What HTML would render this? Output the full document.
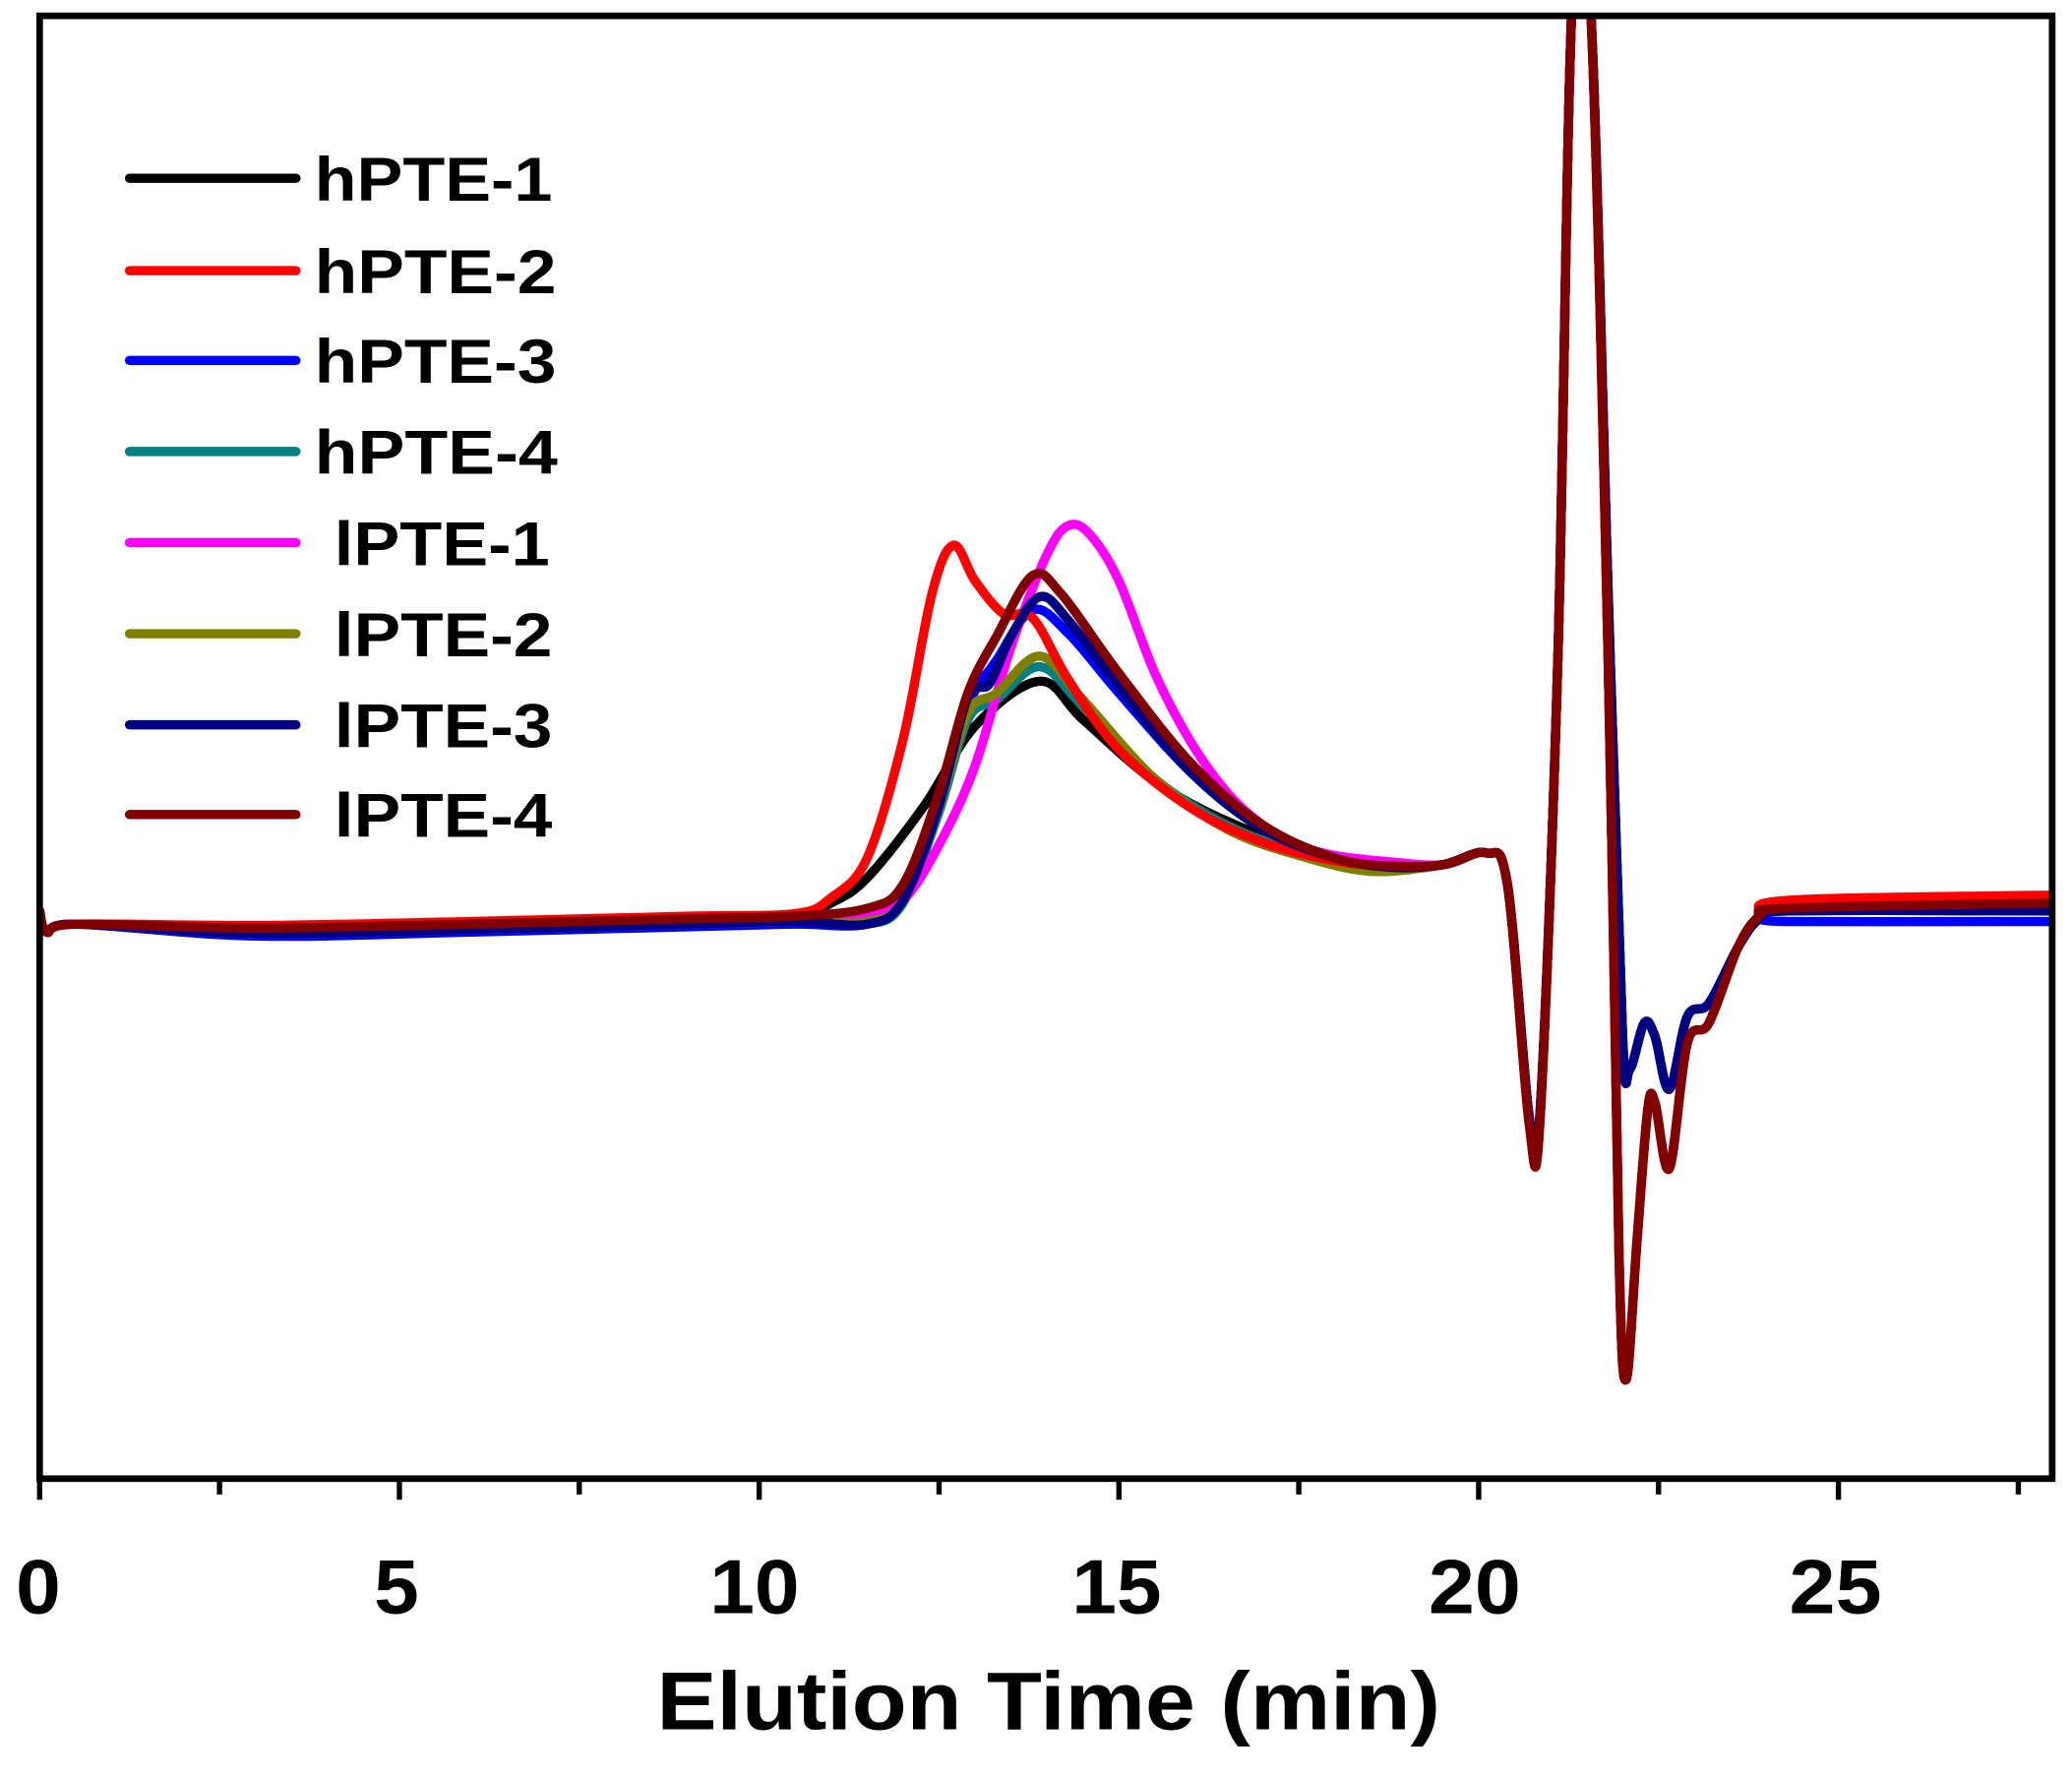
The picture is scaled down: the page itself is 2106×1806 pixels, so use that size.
<!DOCTYPE html>
<html><head><meta charset="utf-8"><style>
html,body{margin:0;padding:0;background:#fff;}
svg{display:block;}
text{font-family:"Liberation Sans",Arial,sans-serif;font-weight:bold;fill:#000;}
</style></head><body>
<svg id="s" width="2106" height="1806" viewBox="0 0 1568 1346" preserveAspectRatio="none" xmlns="http://www.w3.org/2000/svg">
<rect width="1568" height="1346" fill="#fff"/>
<defs><clipPath id="c"><rect x="30" y="12" width="1523" height="1108"/></clipPath></defs>
<g id="curves" clip-path="url(#c)" fill="none" stroke-width="7" stroke-linejoin="round" stroke-linecap="round"></g>
<rect x="30" y="12" width="1523" height="1108" fill="none" stroke="#000" stroke-width="5"/>
<g stroke="#000" stroke-width="4" id="ticks"></g>
<g font-size="58" text-anchor="middle" lengthAdjust="spacingAndGlyphs">
<text x="29" y="1222" textLength="34" lengthAdjust="spacingAndGlyphs">0</text>
<text x="300" y="1222" textLength="34" lengthAdjust="spacingAndGlyphs">5</text>
<text x="571" y="1222" textLength="68" lengthAdjust="spacingAndGlyphs">10</text>
<text x="845" y="1222" textLength="68" lengthAdjust="spacingAndGlyphs">15</text>
<text x="1116" y="1222" textLength="70" lengthAdjust="spacingAndGlyphs">20</text>
<text x="1389" y="1222" textLength="70" lengthAdjust="spacingAndGlyphs">25</text>
</g>
<text x="497" y="1310" font-size="62" textLength="593" lengthAdjust="spacingAndGlyphs">Elution Time (min)</text>
<g stroke-width="7" stroke-linecap="round">
<line x1="98" y1="135" x2="224" y2="135" stroke="#000"/>
<line x1="98" y1="205" x2="224" y2="205" stroke="#ff0000"/>
<line x1="98" y1="273" x2="224" y2="273" stroke="#0000ff"/>
<line x1="98" y1="342" x2="224" y2="342" stroke="#008080"/>
<line x1="98" y1="411" x2="224" y2="411" stroke="#ff00ff"/>
<line x1="98" y1="480" x2="224" y2="480" stroke="#808000"/>
<line x1="98" y1="549" x2="224" y2="549" stroke="#000080"/>
<line x1="98" y1="617" x2="224" y2="617" stroke="#800000"/>
</g>
<g font-size="47">
<text x="238" y="152" textLength="180" lengthAdjust="spacingAndGlyphs">hPTE-1</text>
<text x="238" y="222" textLength="183" lengthAdjust="spacingAndGlyphs">hPTE-2</text>
<text x="238" y="290" textLength="183" lengthAdjust="spacingAndGlyphs">hPTE-3</text>
<text x="238" y="359" textLength="184" lengthAdjust="spacingAndGlyphs">hPTE-4</text>
<text x="253" y="428" textLength="163" lengthAdjust="spacingAndGlyphs">lPTE-1</text>
<text x="253" y="497" textLength="165" lengthAdjust="spacingAndGlyphs">lPTE-2</text>
<text x="253" y="566" textLength="165" lengthAdjust="spacingAndGlyphs">lPTE-3</text>
<text x="253" y="634" textLength="165" lengthAdjust="spacingAndGlyphs">lPTE-4</text>
</g>
</svg>
<script>
var X=function(t){return 30+t*54.45;};
var tk=document.getElementById('ticks'),h='';
for(var t=0;t<=27.5;t+=2.5){var x=X(t);var L=(t%5===0)?16:12;h+='<line x1="'+x+'" y1="1120" x2="'+x+'" y2="'+(1120+L)+'"/>';}
tk.innerHTML=h;
function start(b){return [[0,690],[0.1,706],[0.5,700],[3,b+3],[6,b],[9,b-4],[10.5,b-6]];}
var sysA=[[19.5,655],[20.1,646],[20.4,670],[20.7,845],[20.85,845],[21.1,500],[21.3,0],[21.55,0],[21.8,450],[22.0,785],[22.1,810],[22.3,775],[22.45,785],[22.65,825],[22.9,770],[23.2,760],[23.6,718],[23.9,696],[24.3,690],[28,690]];
var sysB=[[19.5,655],[20.1,646],[20.4,670],[20.7,850],[20.85,850],[21.1,500],[21.3,0],[21.55,0],[21.8,500],[21.95,950],[22.05,1045],[22.2,940],[22.35,840],[22.45,835],[22.65,885],[22.9,790],[23.2,775],[23.6,718],[23.9,694],[24.3,688],[28,684]];
var C=[
['#000',start(700).concat([[11,684],[11.5,665],[12.3,610],[13,550],[13.9,516],[14.5,545],[15.5,592],[16.5,622],[17.5,642],[18.5,655]]),sysA],
['#0000ff',start(706).concat([[11.5,700],[12,680],[12.5,610],[12.9,535],[13.3,500],[13.8,462],[14.3,480],[15,525],[16,585],[17,628],[18,650],[18.8,658]]),sysA.map(function(p){return p[0]>=24?[p[0],p[1]+8]:p;})],
['#008080',start(704).concat([[11.5,700],[12,684],[12.5,615],[12.9,545],[13.3,530],[13.9,505],[14.5,535],[15.5,590],[16.5,625],[17.5,645],[18.5,657]]),sysA],
['#ff00ff',start(700).concat([[11.5,692],[12,682],[12.5,640],[13,580],[13.5,490],[14,420],[14.3,398],[14.6,405],[15,440],[15.5,510],[16,562],[16.5,600],[17,625],[17.5,640],[18,648],[18.8,653]]),sysB],
['#808000',start(704).concat([[11.5,698],[12,682],[12.5,612],[12.9,540],[13.3,525],[13.9,497],[14.5,530],[15.5,590],[16.5,628],[17.5,648],[18.5,660]]),sysB],
['#ff0000',start(698).concat([[11,680],[11.5,650],[12,560],[12.4,450],[12.7,413],[13,440],[13.4,465],[13.8,468],[14.3,515],[15,568],[16,612],[17,638],[18,652],[18.8,656]]),sysB.map(function(p){return p[0]>=24?[p[0],p[1]-6]:p;})],
['#000080',start(704).concat([[11.5,700],[12,682],[12.5,610],[12.9,528],[13.2,518],[13.5,482],[13.9,452],[14.3,470],[15,520],[16,585],[17,628],[18,650],[18.8,657]]),sysA],
['#800000',start(700).concat([[11.5,688],[12,670],[12.5,600],[12.9,525],[13.3,482],[13.8,436],[14.2,450],[15,510],[16,578],[17,625],[18,650],[18.8,656]]),sysB]
];
function path(pts){var P=pts.map(function(p){return [X(p[0]),p[1]];});
var d='M'+P[0][0].toFixed(1)+','+P[0][1].toFixed(1);
for(var i=0;i<P.length-1;i++){var p0=P[i-1]||P[i],p1=P[i],p2=P[i+1],p3=P[i+2]||p2;
var c1x=p1[0]+(p2[0]-p0[0])/6,c1y=p1[1]+(p2[1]-p0[1])/6,c2x=p2[0]-(p3[0]-p1[0])/6,c2y=p2[1]-(p3[1]-p1[1])/6;
d+=' C'+c1x.toFixed(1)+','+c1y.toFixed(1)+' '+c2x.toFixed(1)+','+c2y.toFixed(1)+' '+p2[0].toFixed(1)+','+p2[1].toFixed(1);}
return d;}
var g=document.getElementById('curves'),o='';
C.forEach(function(c){o+='<path stroke="'+c[0]+'" d="'+path(c[1].concat(c[2]))+'"/>';});
g.innerHTML=o;
</script>
</body></html>
